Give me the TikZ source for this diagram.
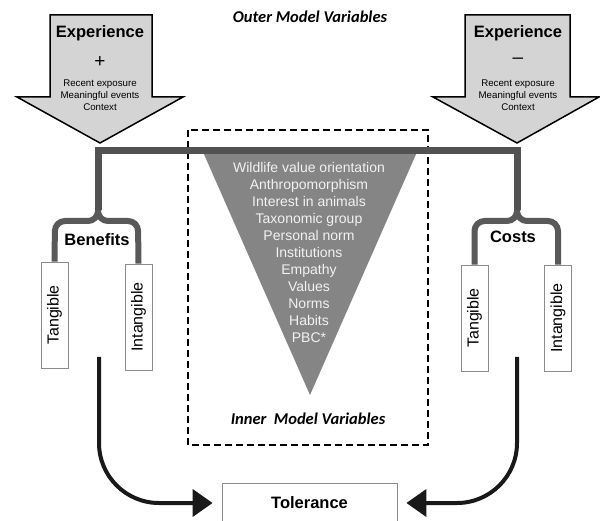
\documentclass[tikz,border=0pt]{standalone}
\usepackage{fontspec}
\setmainfont{Liberation Sans}
\newfontfamily\calfont{Carlito}
\usetikzlibrary{arrows.meta}

\begin{document}
\begin{tikzpicture}[x=1pt,y=-1pt,
 bigarrow/.style={draw=black,line width=1.5pt,fill=black!17,line join=miter},
 bar/.style={line width=7pt,color=black!68,line join=miter},
 brace/.style={line width=6pt,color=black!65,rounded corners=10pt},
 subbox/.style={draw=black!45,line width=0.8pt,rotate=90,minimum width=106pt,minimum height=27pt,inner sep=0pt,font=\fontsize{16}{19}\selectfont},
 head/.style={font=\fontsize{16.5}{19}\selectfont\bfseries},
 model/.style={font=\calfont\fontsize{16.5}{19}\selectfont\bfseries\itshape},
 small/.style={align=center,font=\fontsize{9.7}{12}\selectfont},
 tolarrow/.style={line width=4pt,color=black!90,rounded corners=60pt,-{Triangle[length=20pt,width=27pt]},shorten >=9pt}]

\useasboundingbox (0,0) rectangle (600,521);

\draw[bigarrow] (50,15) -- (152,15) -- (152,97) -- (183,97) -- (100,143) -- (17,97) -- (50,97) -- cycle;
\draw[bigarrow] (465,15) -- (570,15) -- (570,97) -- (599,97) -- (517,143) -- (433,97) -- (465,97) -- cycle;

\node[head] (expP) at (100,33) {Experience};
\node[font=\fontsize{19}{19}\selectfont] (plus) at (100,62) {+};
\node[small] (expPtxt) at (100,95) {Recent exposure\\Meaningful events\\Context};

\node[head] (expM) at (518,33) {Experience};
\node[font=\fontsize{19}{19}\selectfont] (minus) at (518,61) {–};
\node[small] (expMtxt) at (518,95) {Recent exposure\\Meaningful events\\Context};

\node[model] (outer) at (310,17) {Outer Model Variables};

\draw[line width=1.8pt,dash pattern=on 7pt off 4pt] (188,130) rectangle (428,445);

\fill[black!48] (203,152) -- (417,152) -- (310,395) -- cycle;
\node[align=center,text=black!5,font=\fontsize{14}{17}\selectfont] (inner) at (309,252)
 {Wildlife value orientation\\Anthropomorphism\\Interest in animals\\Taxonomic group\\Personal norm\\Institutions\\Empathy\\Values\\Norms\\Habits\\PBC*};
\node[model] (innerlbl) at (308,419) {Inner\ \ Model Variables};

\coordinate (bSplit) at (98,210);
\coordinate (bTop) at (98,151);
\coordinate (cTop) at (517,151);
\coordinate (cSplit) at (517,210);
\draw[bar] (bSplit) -- (bTop) -- (cTop) -- (cSplit);

\node[subbox] (bTang) at (54.5,315) {Tangible};
\node[subbox] (bIntang) at (138.5,317) {Intangible};
\node[subbox] (cTang) at (474.5,318) {Tangible};
\node[subbox] (cIntang) at (558,318) {Intangible};

\draw[brace] (bSplit) -- (98,221) -- (55,221) -- (bTang.east);
\draw[brace] (bSplit) -- (98,221) -- (138,221) -- (bIntang.east);
\draw[brace] (cSplit) -- (517,221) -- (474.5,221) -- (cTang.east);
\draw[brace] (cSplit) -- (517,221) -- (558,221) -- (cIntang.east);

\node[head] (benefits) at (97,240) {Benefits};
\node[head] (costs) at (513,237) {Costs};

\node[draw=black!45,line width=0.8pt,minimum width=175pt,minimum height=40pt,head] (tol) at (309.5,503) {Tolerance};

\coordinate (bOut) at (99,357);
\coordinate (cOut) at (517,357);
\draw[tolarrow] (bOut) |- (tol.west);
\draw[tolarrow] (cOut) |- (tol.east);
\end{tikzpicture}
\end{document}
